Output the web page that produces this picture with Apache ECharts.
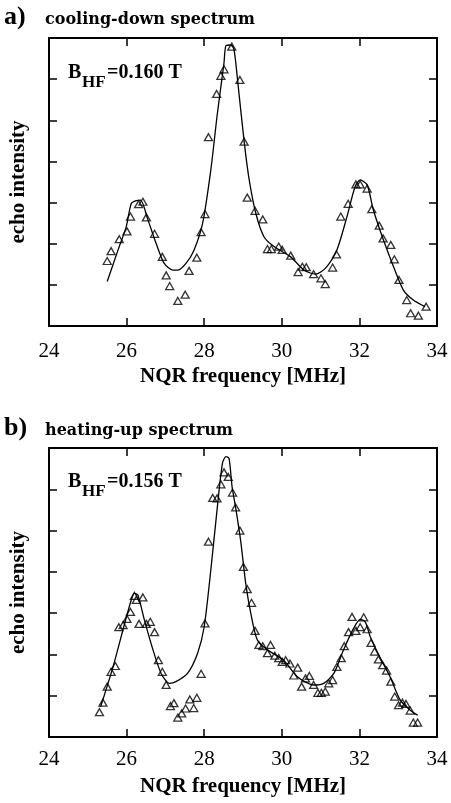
<!DOCTYPE html>
<html>
<head>
<meta charset="utf-8">
<script src="https://cdn.jsdelivr.net/npm/echarts@6/dist/echarts.min.js"></script>
<style>
html,body{margin:0;padding:0;background:#fff;}
#chart{width:451px;height:803px;}
</style>
</head>
<body>
<div id="chart"></div>
<script>
// ---- data (frequency in MHz, intensity in arbitrary tick units) ----
const xTickLabels = ['24', '26', '28', '30', '32', '34'];

const aPointsFreq = [25.50,25.60,25.81,26.01,26.10,26.31,26.42,26.51,26.72,26.92,27.02,27.11,27.32,27.51,27.61,27.81,27.92,28.02,28.11,28.32,28.43,28.51,28.71,28.92,29.03,29.11,29.31,29.51,29.63,29.73,29.92,30.01,30.23,30.42,30.53,30.63,30.82,31.01,31.12,31.31,31.41,31.52,31.71,31.91,32.02,32.20,32.32,32.51,32.61,32.81,32.90,33.02,33.22,33.32,33.52,33.72];
const aPointsInt  = [1.58,1.82,2.11,2.30,2.66,2.96,3.02,2.64,2.24,1.68,1.23,0.97,0.61,0.76,1.34,1.66,2.28,2.72,4.59,5.64,6.08,6.24,6.79,5.98,4.48,3.12,2.80,2.59,1.87,1.87,1.93,1.85,1.71,1.31,1.44,1.43,1.26,1.16,1.02,1.42,1.74,2.66,2.97,3.44,3.44,3.34,2.84,2.44,2.13,1.97,1.62,1.12,0.63,0.31,0.25,0.47];

const aFitFreq = [25.50,25.78,25.99,26.12,26.25,26.36,26.55,26.76,26.97,27.19,27.32,27.53,27.74,27.96,28.17,28.34,28.51,28.56,28.69,28.77,28.86,29.03,29.16,29.33,29.54,29.80,30.23,30.57,30.87,31.12,31.42,31.68,31.89,32.02,32.20,32.36,32.62,32.88,33.13,33.39,33.69];
const aFitInt  = [1.08,1.85,2.41,2.98,3.05,3.06,2.58,2.01,1.52,1.36,1.36,1.52,1.85,2.50,3.79,5.17,6.39,6.81,6.83,6.71,5.98,4.48,3.55,2.74,2.17,1.93,1.68,1.36,1.26,1.40,1.85,2.66,3.39,3.55,3.43,2.82,2.09,1.44,0.88,0.63,0.47];

const bPointsFreq = [25.30,25.39,25.50,25.60,25.71,25.80,25.91,26.01,26.10,26.20,26.25,26.32,26.42,26.51,26.61,26.72,26.82,26.92,27.02,27.13,27.22,27.32,27.42,27.52,27.63,27.73,27.81,27.92,28.02,28.11,28.22,28.33,28.43,28.51,28.62,28.73,28.81,28.92,29.01,29.11,29.22,29.31,29.41,29.51,29.63,29.71,29.82,29.92,30.01,30.10,30.21,30.31,30.41,30.51,30.61,30.71,30.82,30.93,31.02,31.12,31.21,31.31,31.42,31.53,31.61,31.72,31.81,31.91,32.02,32.11,32.20,32.30,32.39,32.49,32.60,32.70,32.81,32.91,33.01,33.11,33.20,33.31,33.39,33.50];
const bPointsInt  = [0.60,0.83,1.22,1.58,1.72,2.66,2.71,2.86,3.03,3.42,3.32,2.74,3.38,2.74,2.79,2.54,1.86,1.58,1.26,0.75,0.82,0.47,0.57,0.69,0.91,0.70,0.95,1.53,2.75,4.73,5.79,5.78,6.12,6.41,6.30,5.92,5.56,5.00,4.12,3.58,3.25,2.57,2.23,2.20,2.03,2.23,1.97,1.91,1.82,1.86,1.78,1.49,1.68,1.22,1.42,1.48,1.26,1.07,1.07,1.10,1.30,1.38,1.70,1.91,2.20,2.54,2.91,2.57,2.66,2.90,2.61,2.28,2.07,1.88,1.74,1.61,1.34,0.98,0.77,0.83,0.80,0.64,0.35,0.35];

const bFitFreq = [25.33,25.65,25.95,26.12,26.20,26.29,26.46,26.68,26.89,27.10,27.27,27.57,27.83,28.00,28.17,28.34,28.47,28.56,28.64,28.72,28.81,28.94,29.07,29.20,29.37,29.63,30.05,30.40,30.82,31.08,31.34,31.59,31.85,32.02,32.15,32.28,32.54,32.79,33.05,33.31,33.50];
const bFitInt  = [0.73,1.70,2.75,3.32,3.48,3.44,2.83,2.11,1.54,1.30,1.34,1.54,2.03,2.67,4.04,5.58,6.63,6.79,6.75,6.05,5.56,4.75,3.72,3.00,2.35,2.11,1.86,1.46,1.26,1.30,1.54,2.11,2.63,2.85,2.79,2.43,1.91,1.46,0.90,0.65,0.53];

const zip = (xs, ys) => xs.map((x, i) => [x, ys[i]]);

const SERIF = '"Liberation Serif", "Times New Roman", serif';
const TITLE_FONT = '"DejaVu Serif", serif';

function xAxisBottom(gridIndex, margin, nameGap) {
  return {
    gridIndex, type: 'value', position: 'bottom', min: 24, max: 34, interval: 2,
    axisLine: { show: true, onZero: false, lineStyle: { color: '#000', width: 2 } },
    axisTick: { show: true, inside: true, length: 8, lineStyle: { color: '#000', width: 1.5 } },
    axisLabel: {
      show: true, margin, color: '#000', fontSize: 21, fontFamily: SERIF,
      formatter: v => xTickLabels[Math.round((v - 24) / 2)] ?? ''
    },
    splitLine: { show: false },
    name: 'NQR frequency [MHz]', nameLocation: 'middle', nameGap,
    nameTextStyle: { color: '#000', fontSize: 21, fontWeight: 'bold', fontFamily: SERIF }
  };
}
function xAxisTop(gridIndex) {
  return {
    gridIndex, type: 'value', position: 'top', min: 24, max: 34, interval: 2,
    axisLine: { show: true, onZero: false, lineStyle: { color: '#000', width: 2 } },
    axisTick: { show: true, inside: true, length: 8, lineStyle: { color: '#000', width: 1.5 } },
    axisLabel: { show: false }, splitLine: { show: false }
  };
}
function yAxisLeft(gridIndex) {
  return {
    gridIndex, type: 'value', position: 'left', min: 0, max: 7, interval: 1,
    axisLine: { show: true, onZero: false, lineStyle: { color: '#000', width: 2 } },
    axisTick: { show: true, inside: true, length: 8, lineStyle: { color: '#000', width: 1.5 } },
    axisLabel: { show: false }, splitLine: { show: false },
    name: 'echo intensity', nameLocation: 'middle', nameGap: 20, nameRotate: 90,
    nameTextStyle: { color: '#000', fontSize: 21, fontWeight: 'bold', fontFamily: SERIF }
  };
}
function yAxisRight(gridIndex) {
  return {
    gridIndex, type: 'value', position: 'right', min: 0, max: 7, interval: 1,
    axisLine: { show: true, onZero: false, lineStyle: { color: '#000', width: 2 } },
    axisTick: { show: true, inside: true, length: 8, lineStyle: { color: '#000', width: 1.5 } },
    axisLabel: { show: false }, splitLine: { show: false }
  };
}

function pointsSeries(idx, data) {
  return {
    type: 'scatter', xAxisIndex: idx * 2, yAxisIndex: idx * 2, data,
    symbol: 'triangle', symbolSize: [8, 7],
    itemStyle: { color: 'rgba(0,0,0,0)', borderColor: '#000', borderWidth: 1.3 },
    emphasis: { disabled: true }, z: 3
  };
}
function fitSeries(idx, data) {
  return {
    type: 'line', xAxisIndex: idx * 2, yAxisIndex: idx * 2, data,
    showSymbol: false, smooth: 0.25,
    lineStyle: { color: '#000', width: 1.3 },
    emphasis: { disabled: true }, z: 2
  };
}

function txt(x, y, text, font, size, weight) {
  return {
    type: 'text', left: x, top: y,
    style: { text, fill: '#000', font: `${weight || 'bold'} ${size}px ${font}` }
  };
}

const chart = echarts.init(document.getElementById('chart'), null, { renderer: 'canvas' });
chart.setOption({
  animation: false,
  backgroundColor: '#fff',
  grid: [
    { left: 47.5, top: 38, right: 14, height: 288, containLabel: false },
    { left: 47.5, top: 448, right: 14, height: 289, containLabel: false }
  ],
  xAxis: [xAxisBottom(0, 15, 40), xAxisTop(0), xAxisBottom(1, 12, 39), xAxisTop(1)],
  yAxis: [yAxisLeft(0), yAxisRight(0), yAxisLeft(1), yAxisRight(1)],
  series: [
    fitSeries(0, zip(aFitFreq, aFitInt)),
    pointsSeries(0, zip(aPointsFreq, aPointsInt)),
    fitSeries(1, zip(bFitFreq, bFitInt)),
    pointsSeries(1, zip(bPointsFreq, bPointsInt))
  ],
  graphic: [
    txt(4, 4, 'a)', SERIF, 26),
    txt(45, 12, 'cooling-down spectrum', TITLE_FONT, 16),
    txt(4, 415, 'b)', SERIF, 26),
    txt(45, 423, 'heating-up spectrum', TITLE_FONT, 16),
    // B_HF labels
    txt(68, 63, 'B', SERIF, 20),
    txt(82, 74, 'HF', SERIF, 17),
    txt(107, 63, '=0.160 T', SERIF, 20),
    txt(68, 472, 'B', SERIF, 20),
    txt(82, 483, 'HF', SERIF, 17),
    txt(107, 472, '=0.156 T', SERIF, 20)
  ]
});
</script>
</body>
</html>
